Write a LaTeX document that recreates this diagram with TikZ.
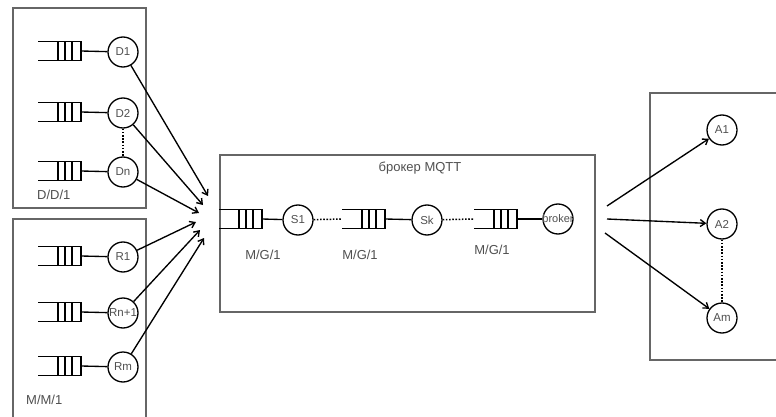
\documentclass[tikz,border=0pt]{standalone}
\usepackage{fontspec}
\setmainfont{Liberation Sans}
\usetikzlibrary{arrows.meta}
\definecolor{boxgray}{HTML}{666666}
\definecolor{txtgray}{HTML}{505050}
\tikzset{
  frame/.style={draw=boxgray, line width=1.8pt},
  srv/.style={circle, draw=black, line width=1.3pt, minimum size=30pt, inner sep=0pt, font=\fontsize{11.5}{11}\selectfont, text=txtgray},
  lbl/.style={font=\fontsize{13}{13}\selectfont, text=txtgray, inner sep=0pt},
  conn/.style={draw=black, line width=1.35pt},
  arr/.style={conn, -{Straight Barb[length=5pt,width=7pt]}},
  dots/.style={draw=black, line width=1.5pt, dash pattern=on 1.6pt off 1.6pt},
  qline/.style={draw=black, line width=1.1pt}
}
% \qbox{name}{right x}{center y}
\newcommand{\qbox}[3]{%
  \draw[qline] (#2-43,#3-9.5) -- (#2,#3-9.5) -- (#2,#3+9.5) -- (#2-43,#3+9.5);
  \draw[qline] (#2-23,#3-9.5) -- (#2-23,#3+9.5);
  \draw[qline] (#2-16,#3-9.5) -- (#2-16,#3+9.5);
  \draw[qline] (#2-9,#3-9.5) -- (#2-9,#3+9.5);
  \coordinate (#1) at (#2,#3);
}
\begin{document}
\begin{tikzpicture}[x=1pt,y=-1pt]
\useasboundingbox[fill=white] (0,0) rectangle (776,417);
% frames
\draw[frame] (13,8) rectangle (146,208);
\draw[frame] (13,219) rectangle (146,425);
\draw[frame] (220,155) rectangle (595,312);
\draw[frame] (650,93) rectangle (790,360);
% left top group
\node[srv] (D1) at (123,52) {D1};
\node[srv] (D2) at (123,113) {D2};
\node[srv] (Dn) at (123,172) {Dn};
\qbox{qD1}{81}{51}
\qbox{qD2}{81}{112}
\qbox{qDn}{81}{171}
\draw[conn] (qD1) -- (D1);
\draw[conn] (qD2) -- (D2);
\draw[conn] (qDn) -- (Dn);
\draw[dots] (D2) -- (Dn);
\node[lbl, anchor=west] (DD1) at (37,195) {D/D/1};
% left bottom group
\node[srv] (R1) at (123,257) {R1};
\node[srv] (Rn) at (123,313) {Rn+1};
\node[srv] (Rm) at (123,367) {Rm};
\qbox{qR1}{81}{256}
\qbox{qRn}{81}{312}
\qbox{qRm}{81}{366}
\draw[conn] (qR1) -- (R1);
\draw[conn] (qRn) -- (Rn);
\draw[conn] (qRm) -- (Rm);
\node[lbl, anchor=west] (MM1) at (26,400) {M/M/1};
% convergence points
\coordinate (c1) at (208,196);
\coordinate (c2) at (203,205);
\coordinate (c3) at (199,213);
\coordinate (c4) at (196,222);
\coordinate (c5) at (200,230);
\coordinate (c6) at (204,238);
\draw[arr] (D1) -- (c1);
\draw[arr] (D2) -- (c2);
\draw[arr] (Dn) -- (c3);
\draw[arr] (R1) -- (c4);
\draw[arr] (Rn) -- (c5);
\draw[arr] (Rm) -- (c6);
% broker
\node[lbl] (title) at (420,168) {брокер MQTT};
\qbox{q1}{262}{219}
\qbox{q2}{385}{219}
\qbox{q3}{517}{219}
\node[srv] (S1) at (298,220) {S1};
\node[srv] (Sk) at (427,220) {Sk};
\node[srv] (Br) at (558,219) {};
\node[font=\fontsize{11}{10}\selectfont, text=txtgray, inner sep=0pt] (brt) at (Br) {broker};
\draw[conn] (q1) -- (S1);
\draw[conn] (q2) -- (Sk);
\draw[conn] (q3) -- (Br);
\coordinate (q2l) at (342,219);
\coordinate (q3l) at (474,219);
\draw[dots] (S1) -- (q2l);
\draw[dots] (Sk) -- (q3l);
\node[lbl] (mg1) at (263,255) {M/G/1};
\node[lbl] (mg2) at (360,255) {M/G/1};
\node[lbl] (mg3) at (492,250) {M/G/1};
% right group
\node[srv] (A1) at (722,130) {A1};
\node[srv] (A2) at (722,224) {A2};
\node[srv] (Am) at (722,318) {Am};
\draw[dots] (A2) -- (Am);
\coordinate (o1) at (607,206);
\coordinate (o2) at (607,219);
\coordinate (o3) at (605,233);
\draw[arr] (o1) -- (A1);
\draw[arr] (o2) -- (A2);
\draw[arr] (o3) -- (Am);
\end{tikzpicture}
\end{document}
